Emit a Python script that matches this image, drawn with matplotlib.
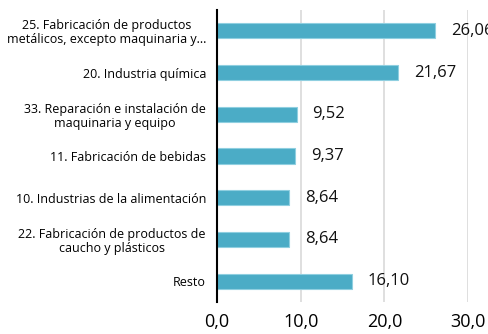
import matplotlib.pyplot as plt

categories = [
    "25. Fabricación de productos\nmetálicos, excepto maquinaria y...",
    "20. Industria química",
    "33. Reparación e instalación de\nmaquinaria y equipo",
    "11. Fabricación de bebidas",
    "10. Industrias de la alimentación",
    "22. Fabricación de productos de\ncaucho y plásticos",
    "Resto",
]
values = [26.06, 21.67, 9.52, 9.37, 8.64, 8.64, 16.10]
xticks = [0, 10, 20, 30]

plt.rcParams["font.family"] = ["Open Sans", "DejaVu Sans"]

fig = plt.figure(figsize=(4.89, 3.34), dpi=100)
ax = fig.add_axes([217 / 489, 1 - 302 / 334, (468 - 217) / 489, 292 / 334])

ys = list(range(len(categories)))
ax.barh(ys, values, height=0.36, color="#4BACC6", edgecolor="#8FCFE0", linewidth=0.8, zorder=3)

for y, v in zip(ys, values):
    ax.text(v + 1.9, y, f"{v:.2f}".replace(".", ","), va="center", ha="left",
            fontsize=12, color="#111111")

ax.set_xlim(0, 30)
ax.set_ylim(len(categories) - 0.5, -0.5)
ax.set_yticks(ys)
ax.set_yticklabels(categories, fontsize=9, multialignment="center", linespacing=1.1)
ax.set_xticks(xticks)
ax.set_xticklabels([f"{t:.1f}".replace(".", ",") for t in xticks], fontsize=13)
ax.tick_params(axis="y", length=0, pad=8)
ax.tick_params(axis="x", length=0, pad=8)
ax.grid(axis="x", color="#D9D9D9", linewidth=1.2, zorder=0)
for s in ["top", "right", "bottom"]:
    ax.spines[s].set_visible(False)
ax.spines["left"].set_linewidth(1.5)
ax.spines["left"].set_color("black")
ax.spines["left"].set_zorder(4)

fig.savefig("out.png", dpi=100)
